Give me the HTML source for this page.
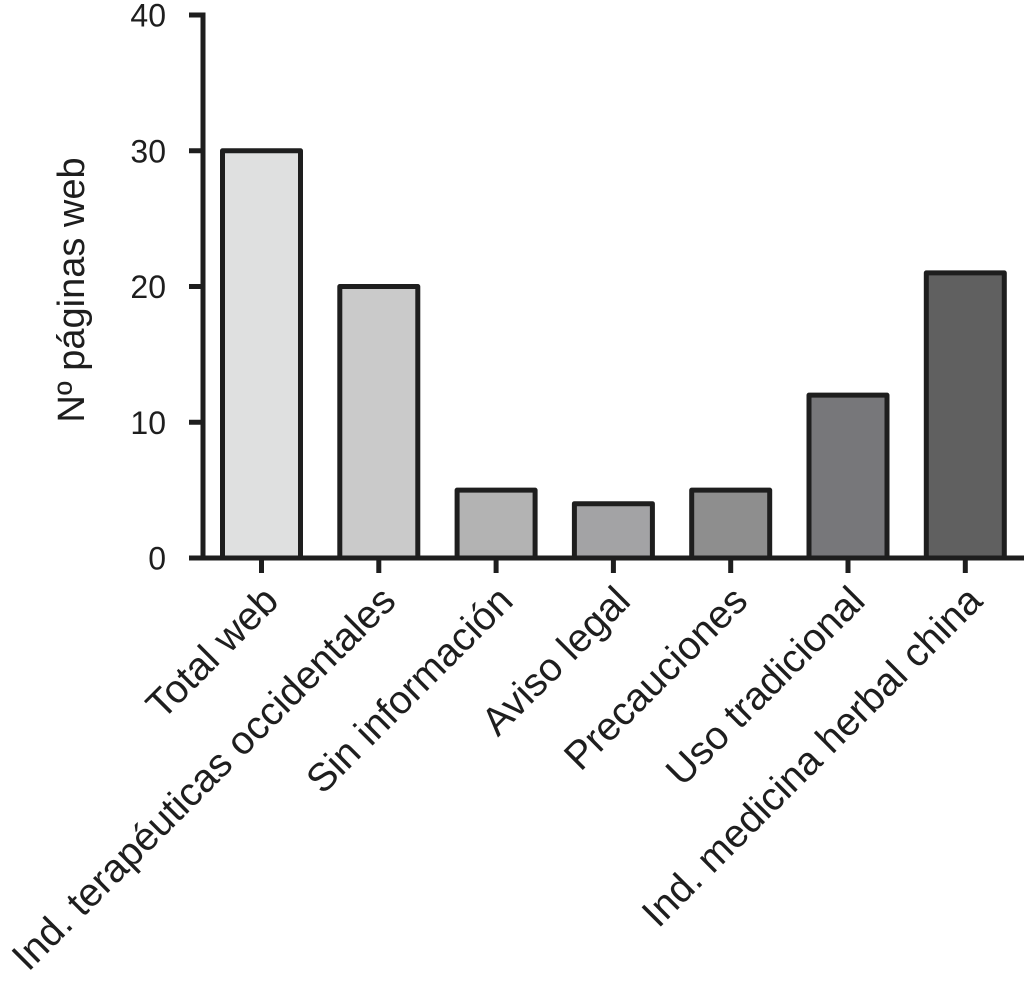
<!DOCTYPE html>
<html><head><meta charset="utf-8"><style>
html,body{margin:0;padding:0;background:#fff;}
svg{display:block;font-family:"Liberation Sans",Arial,sans-serif;}
</style></head><body>
<svg id="chart" width="1024" height="981" viewBox="0 0 1024 981" xmlns="http://www.w3.org/2000/svg"></svg>
<script>
const categories = ["Total web","Ind. terapéuticas occidentales","Sin información","Aviso legal","Precauciones","Uso tradicional","Ind. medicina herbal china"];
const values = [30,20,5,4,5,12,21];
const colors = ["#dfe0e0","#cacaca","#b3b3b3","#a3a3a5","#8e8e8e","#77777a","#606060"];
const yTicks = [0,10,20,30,40];
const ns="http://www.w3.org/2000/svg";
const svg=document.getElementById('chart');
const y0=558, yTop=15, yMax=40;
const y=v=>y0-(y0-yTop)*v/yMax;
const x0=261.5, step=117.3, bw=78;
const x=i=>x0+i*step;
function mk(t,a){const e=document.createElementNS(ns,t);for(const k in a)e.setAttribute(k,a[k]);svg.appendChild(e);return e;}
categories.forEach((c,i)=>{
  const r=mk('rect',{x:x(i)-bw/2,y:y(values[i]),width:bw,height:y0-y(values[i]),fill:colors[i],stroke:'#1e1e1e','stroke-width':5,'stroke-linejoin':'round'});
  
  
  const t=mk('line',{x1:x(i),x2:x(i),y1:y0,y2:y0+15,stroke:'#1e1e1e','stroke-width':5});
  
  
  const lx=x(i)+19, ly=603;
  const l=mk('text',{x:lx,y:ly,'font-size':39.5,'text-anchor':'end',fill:'#1e1e1e',transform:`rotate(-45 ${lx} ${ly})`});
  l.textContent=c;
  
  
});
const ax=mk('line',{x1:203,x2:203,y1:yTop-2.5,y2:y0+2.5,stroke:'#1e1e1e','stroke-width':5});


const bx=mk('line',{x1:190,x2:1024,y1:y0,y2:y0,stroke:'#1e1e1e','stroke-width':5});


yTicks.forEach(v=>{
  const t=mk('line',{x1:189,x2:203,y1:y(v),y2:y(v),stroke:'#1e1e1e','stroke-width':5});
  
  
  const l=mk('text',{x:166,y:y(v)+11.5,'font-size':32,'text-anchor':'end',fill:'#1e1e1e'});
  l.textContent=v;
  
  
});
const yt=mk('text',{x:84,y:290,'font-size':38,'text-anchor':'middle',fill:'#1e1e1e',transform:'rotate(-90 84 290)'});
yt.textContent='Nº páginas web';


</script>
</body></html>
